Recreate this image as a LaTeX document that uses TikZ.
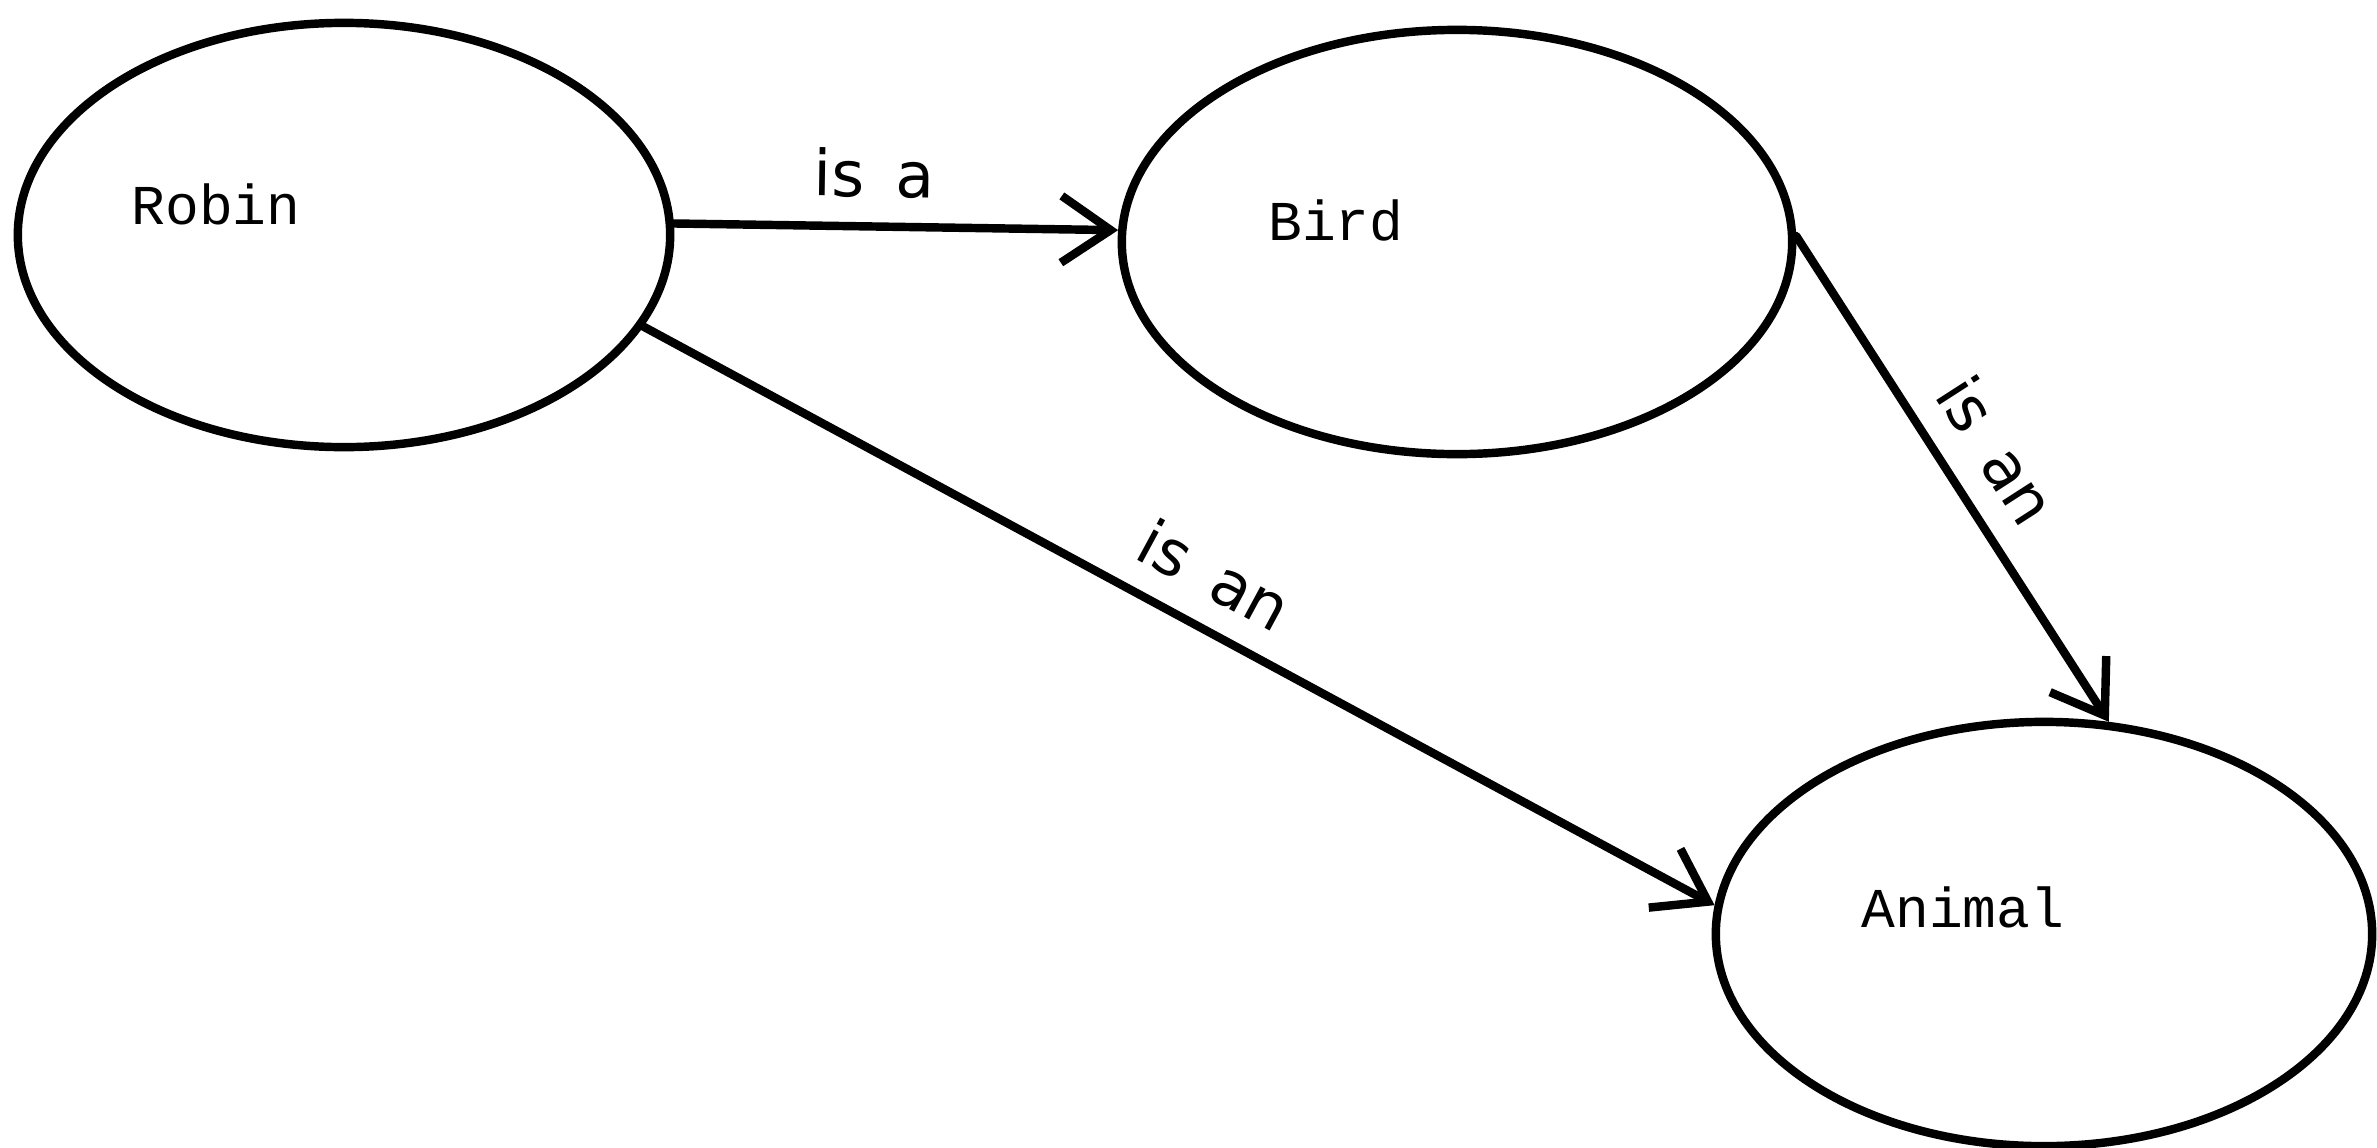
\documentclass[tikz,border=0pt]{standalone}
\usepackage{fontspec}
\setmonofont{Liberation Mono}
\setsansfont{DejaVu Sans}
\usetikzlibrary{shapes.geometric,arrows.meta}
\begin{document}
\begin{tikzpicture}[x=0.01cm,y=-0.01cm,
  concept/.style={ellipse, draw, line width=2.4pt, minimum height=4.24cm, inner sep=0pt},
  conceptname/.style={font=\ttfamily\fontsize{16}{18}\selectfont, inner sep=0pt},
  rel/.style={line width=2.4pt, line cap=round, -{Straight Barb[length=14pt,width=19pt,line width=2.4pt]}},
  rellbl/.style={font=\sffamily\fontsize{18}{20}\selectfont, sloped, above, inner sep=7pt}]
\useasboundingbox (0,0) rectangle (2377,1148);
\node[concept, minimum width=6.52cm] (robin) at (344,235) {};
\node[concept, minimum width=6.70cm] (bird) at (1457,242) {};
\node[concept, minimum width=6.56cm] (animal) at (2044,934) {};
\node[conceptname] (robinlbl) at (216,204) {Robin};
\node[conceptname] (birdlbl) at (1336,220) {Bird};
\node[conceptname] (animallbl) at (1963,907) {Animal};
\draw[rel] (robin.2) -- node[rellbl, pos=0.45] {is\enspace a} (bird.178);
\draw[rel] (robin.343) -- node[rellbl, pos=0.51] {is\enspace an} (animal.175);
\draw[rel] (bird.1) -- node[rellbl, pos=0.5] {is\enspace an} (animal.73);
\end{tikzpicture}
\end{document}
